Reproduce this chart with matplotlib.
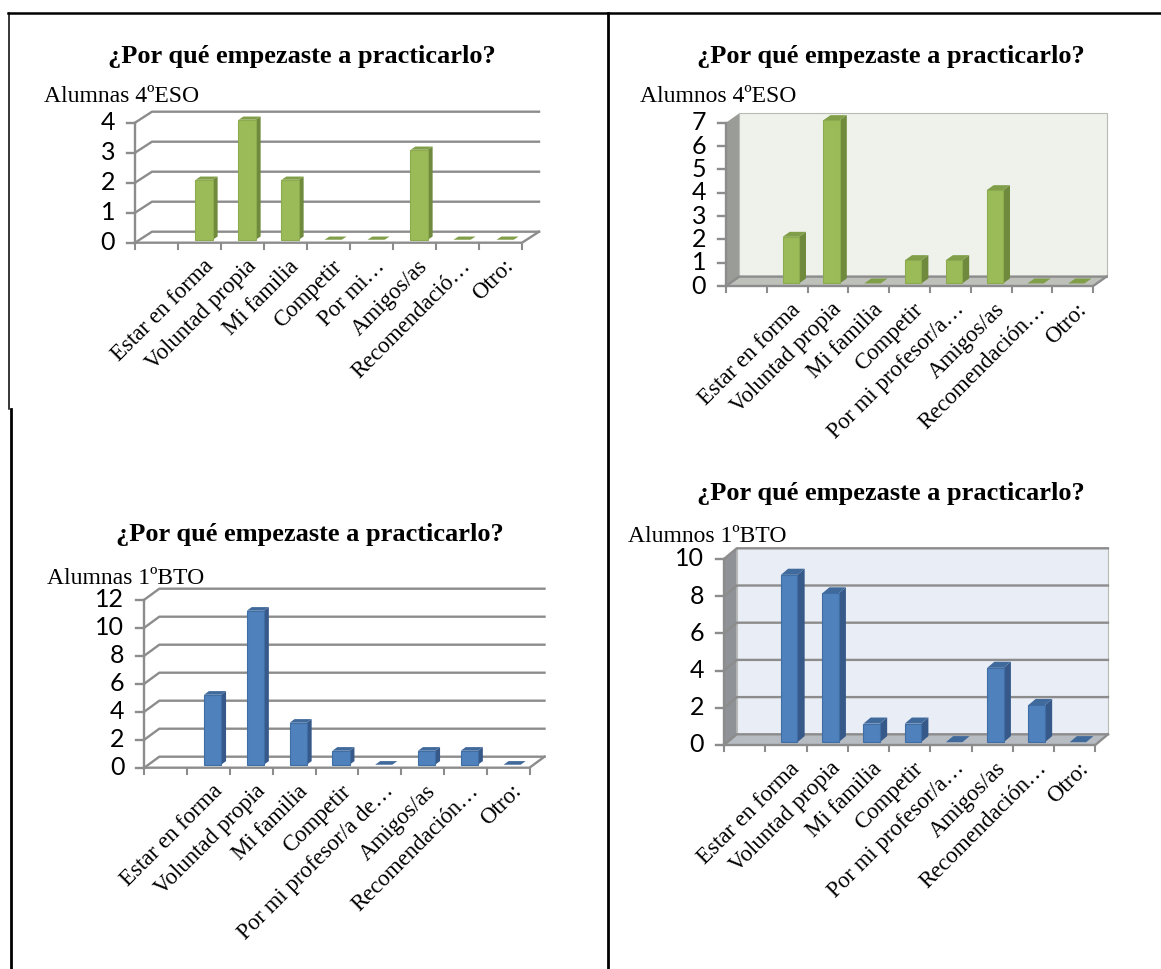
import matplotlib
matplotlib.use("Agg")
import matplotlib.pyplot as plt
from matplotlib.patches import Polygon, Rectangle
from matplotlib.lines import Line2D
from matplotlib.transforms import offset_copy

W, H = 1161, 969
DPI = 100

title_text = "¿Por qué empezaste a practicarlo?"

# ---- data -------------------------------------------------------------
labels_a4 = ["Estar en forma", "Voluntad propia", "Mi familia", "Competir",
             "Por mi…", "Amigos/as", "Recomendació…", "Otro:"]
labels_o4 = ["Estar en forma", "Voluntad propia", "Mi familia", "Competir",
             "Por mi profesor/a…", "Amigos/as", "Recomendación…", "Otro:"]
labels_a1 = ["Estar en forma", "Voluntad propia", "Mi familia", "Competir",
             "Por mi profesor/a de…", "Amigos/as", "Recomendación…", "Otro:"]
labels_o1 = ["Estar en forma", "Voluntad propia", "Mi familia", "Competir",
             "Por mi profesor/a…", "Amigos/as", "Recomendación…", "Otro:"]

alumnas_4eso = [2, 4, 2, 0, 0, 3, 0, 0]
alumnos_4eso = [2, 7, 0, 1, 1, 4, 0, 0]
alumnas_1bto = [5, 11, 3, 1, 0, 1, 1, 0]
alumnos_1bto = [9, 8, 1, 1, 0, 4, 2, 0]

ticks_a4 = [0, 1, 2, 3, 4]
ticks_o4 = [0, 1, 2, 3, 4, 5, 6, 7]
ticks_a1 = [0, 2, 4, 6, 8, 10, 12]
ticks_o1 = [0, 2, 4, 6, 8, 10]

# ---- styles -----------------------------------------------------------
GREEN = dict(front="#9BBB59", side="#6F8A3C", top="#819F48", edge="#8CAA4E")
BLUE = dict(front="#4F81BD", side="#36598A", top="#40699C", edge="#3F6EA5")
GRID = "#8C8C8C"

fig = plt.figure(figsize=(W / DPI, H / DPI), dpi=DPI)
fig.patch.set_facecolor("white")


def fx(x):
    return x / W


def fy(y):
    return 1 - y / H


def panel(values, labels, ticks, subtitle, colors, *, ax_x, y0, slot, ppu,
          depth, f0, f1, title_xy, sub_xy, walls=None, gridlines=True,
          lead=1):
    nslots = len(values) + lead
    top = ticks[-1]
    ax = fig.add_axes([fx(ax_x), fy(y0), slot * nslots / W, top * ppu / H])
    ax.set_xlim(0, nslots)
    ax.set_ylim(0, top)
    ax.axis("off")
    px = 1.0 / slot          # one pixel in x data units
    py = 1.0 / ppu           # one pixel in y data units
    ddx = depth[0] * px
    ddy = depth[1] * py

    kw = dict(clip_on=False)
    # walls and floor
    if walls is not None:
        left_c, back_c, floor_c = walls
        ax.add_patch(Polygon([(0, 0), (0, top), (ddx, top + ddy), (ddx, ddy)],
                             closed=True, fc=left_c, ec="none", zorder=1, **kw))
        ax.add_patch(Rectangle((ddx, ddy), nslots, top, fc=back_c,
                               ec="#B8BAB6", lw=0.8, zorder=1, **kw))
        ax.add_patch(Polygon([(0, 0), (nslots, 0), (nslots + ddx, ddy), (ddx, ddy)],
                             closed=True, fc=floor_c, ec="none", zorder=2, **kw))

    # gridlines on side and back wall
    levels = ticks if gridlines else [0]
    for v in levels:
        ax.add_line(Line2D([0, ddx, nslots + ddx], [v, v + ddy, v + ddy],
                           color=GRID, lw=1.7, zorder=2, **kw))
    # floor front edge and right edge
    ax.add_line(Line2D([0, nslots, nslots + ddx], [0, 0, ddy],
                       color=GRID, lw=1.7, zorder=3, **kw))
    # value axis
    ax.add_line(Line2D([0, 0], [0, top], color=GRID, lw=1.7, zorder=3, **kw))
    for v in ticks:
        ax.add_line(Line2D([0, -8 * px], [v, v], color=GRID, lw=1.7,
                           zorder=3, **kw))
        ax.text(0, v, str(v), transform=offset_copy(ax.transData, fig=fig,
                x=-20, y=0, units="dots"), ha="right", va="center",
                fontsize=18, family="Lato", color="black")
    # category ticks
    for k in range(nslots + 1):
        ax.add_line(Line2D([k, k], [0, -6 * py], color=GRID, lw=1.5,
                           zorder=3, **kw))

    # bars
    hw = 0.2
    for i, v in enumerate(values):
        c = lead + i + 0.5
        xl, xr = c - hw, c + hw
        a0x, a0y = f0 * ddx, f0 * ddy
        a1x, a1y = f1 * ddx, f1 * ddy
        z = 5 + i * 0.01
        ax.add_patch(Polygon([(xr + a0x, a0y), (xr + a1x, a1y),
                              (xr + a1x, v + a1y), (xr + a0x, v + a0y)],
                             closed=True, fc=colors["side"], ec="none",
                             zorder=z, **kw))
        ax.add_patch(Polygon([(xl + a0x, v + a0y), (xr + a0x, v + a0y),
                              (xr + a1x, v + a1y), (xl + a1x, v + a1y)],
                             closed=True, fc=colors["top"], ec="none",
                             zorder=z, **kw))
        if v > 0:
            ax.add_patch(Rectangle((xl + a0x, a0y), 2 * hw, v,
                                   fc=colors["front"], ec=colors["edge"],
                                   lw=0.8, zorder=z + 0.001, **kw))

    # category labels
    for i, lab in enumerate(labels):
        c = lead + i + 0.5
        ax.text(c, 0, lab, transform=offset_copy(ax.transData, fig=fig,
                x=3, y=-13, units="dots"), rotation=45,
                rotation_mode="anchor", ha="right", va="top",
                fontsize=16.5, family="Liberation Serif", color="black")

    fig.text(fx(title_xy[0]), fy(title_xy[1]), title_text, ha="center",
             va="center", fontsize=19, fontweight="bold",
             family="Liberation Serif")
    fig.text(fx(sub_xy[0]), fy(sub_xy[1]), subtitle, ha="left", va="center",
             fontsize=17, family="Liberation Serif")
    return ax


panel(alumnas_4eso, labels_a4, ticks_a4, "Alumnas 4ºESO", GREEN,
      ax_x=135, y0=242.7, slot=43, ppu=30, depth=(17, 11), f0=0.27, f1=0.56,
      title_xy=(302, 57), sub_xy=(44, 97))
panel(alumnos_4eso, labels_o4, ticks_o4, "Alumnos 4ºESO", GREEN,
      ax_x=726, y0=286, slot=40.8, ppu=23.33, depth=(13.3, 9.4), f0=0.27,
      f1=0.8, title_xy=(891, 57), sub_xy=(640, 97),
      walls=("#9A9C97", "#EFF1EB", "#BEC0BA"), gridlines=False)
panel(alumnas_1bto, labels_a1, ticks_a1, "Alumnas 1ºBTO", BLUE,
      ax_x=144.3, y0=767.7, slot=42.8, ppu=14, depth=(15, 11), f0=0.27,
      f1=0.6, title_xy=(310, 534), sub_xy=(47, 578))
panel(alumnos_1bto, labels_o1, ticks_o1, "Alumnos 1ºBTO", BLUE,
      ax_x=724, y0=745, slot=41.25, ppu=18.6, depth=(12.7, 10.7), f0=0.26,
      f1=0.83, title_xy=(891, 494), sub_xy=(628, 537),
      walls=("#8F9296", "#E9EDF5", "#B7BBC2"))

# table borders
border = dict(color="black", transform=fig.transFigure)
fig.add_artist(Line2D([fx(8), fx(1161)], [fy(12.5), fy(12.5)], lw=1.8, **border))
fig.add_artist(Line2D([fx(9), fx(9)], [fy(12.5), fy(409)], lw=1.1, **border))
fig.add_artist(Line2D([fx(10.5), fx(10.5)], [fy(409), fy(969)], lw=2.0, **border))
fig.add_artist(Line2D([fx(607.5), fx(607.5)], [fy(12.5), fy(969)], lw=2.0, **border))

fig.savefig("out.png", dpi=DPI)
